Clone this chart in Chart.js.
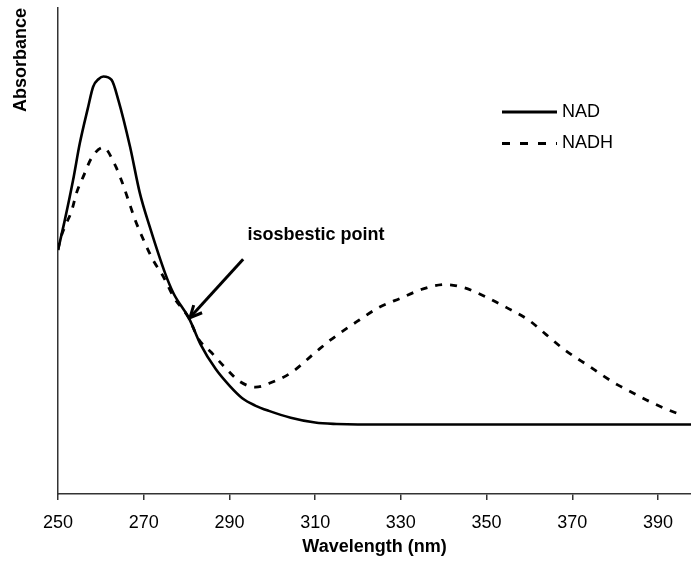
<!DOCTYPE html>
<html>
<head>
<meta charset="utf-8">
<script src="https://cdn.jsdelivr.net/npm/chart.js@4.4.1/dist/chart.umd.min.js"></script>
<style>
    body { margin: 0; background: #fff; }
    #wrap { width: 691px; height: 570px; position: relative; }
</style>
</head>
<body>
<div id="wrap"><canvas id="spectrumGraph"></canvas></div>
<script>
// wavelength (nm) / absorbance (arbitrary units)
var nadWavelength = [250, 251.6, 253.5, 255.1, 257, 258.2, 259.5, 260.6, 262.5, 264.1, 266.8, 269.1, 271.4, 275, 277, 280.6, 283.2, 286.8, 290, 293, 296, 299.2, 304.3, 310, 315, 320, 340, 360, 380, 397.7];
var nadAbsorbance = [50.2, 56.4, 64.5, 72.2, 79.5, 83.8, 85.4, 85.9, 85.2, 81, 71.5, 61.9, 55, 45.4, 41.2, 36.1, 30.9, 25.7, 22.3, 19.7, 18.2, 17.1, 15.7, 14.7, 14.4, 14.3, 14.3, 14.3, 14.3, 14.3];

var nadhWavelength = [250, 250.5, 251.5, 253.2, 254.3, 255.9, 257.8, 260.6, 263.3, 264.9, 266.4, 268, 270.3, 272.2, 274.6, 277, 280.6, 282.7, 285.8, 288.9, 292.5, 296.1, 300.2, 304.3, 310, 313.6, 320.3, 324.9, 330, 335.2, 340.3, 344.9, 349.5, 354.6, 359.8, 363.9, 368, 374.1, 377.6, 380.7, 384.4, 388.1, 390.8, 395.3];
var nadhAbsorbance = [50.2, 52.3, 54.8, 58.3, 61.9, 65.3, 69.1, 71.3, 67.7, 64.3, 60.5, 56.4, 51.6, 48.1, 44.7, 40.5, 36.1, 32, 29.1, 26.1, 23.1, 22, 23.1, 24.9, 29.1, 31.7, 35.8, 38.4, 40.3, 42.2, 43.1, 42.4, 40.7, 38.4, 35.8, 32.8, 29.8, 26.2, 24.1, 22.4, 20.7, 19, 17.9, 16.3];

var xTicks = [250, 270, 290, 310, 330, 350, 370, 390];
var xMin = 250;
var xMax = 397.7;

// arrow tail/tip and label anchor, in data units
var arrowTail = [293.2, 48.3];
var arrowTip = [280.8, 36.3];
var noteLabel = "isosbestic point";
var notePos = [294.2, 53.2];

Chart.defaults.font.family = "'Liberation Sans', Arial, Helvetica, sans-serif";
Chart.defaults.font.size = 18;
Chart.defaults.color = "#000";

function to_points(xs, ys) {
    var pts = [];
    for (var i = 0; i < xs.length; i++) {
        pts.push({ x: xs[i], y: ys[i] });
    }
    return pts;
}

var overlayPlugin = {
    id: "overlay",
    afterDatasetsDraw: function (chart) {
        var ctx = chart.ctx;
        var xs = chart.scales.x;
        var ys = chart.scales.y;
        ctx.save();

        // legend, drawn from the datasets
        var legendX = 502, legendY = 112, sampleW = 55;
        chart.data.datasets.forEach(function (ds, i) {
            var y = legendY + i * 31.5;
            ctx.beginPath();
            ctx.strokeStyle = ds.borderColor;
            ctx.lineWidth = 3;
            ctx.setLineDash(i == 0 ? [] : [8, 10]);
            ctx.moveTo(legendX, y);
            ctx.lineTo(legendX + sampleW, y);
            ctx.stroke();
            ctx.setLineDash([]);
            ctx.fillStyle = "#000";
            ctx.font = "18px 'Liberation Sans', Arial, sans-serif";
            ctx.textAlign = "left";
            ctx.textBaseline = "middle";
            ctx.fillText(ds.label, legendX + sampleW + 5, y);
        });

        // isosbestic point arrow
        var tx = xs.getPixelForValue(arrowTail[0]), ty = ys.getPixelForValue(arrowTail[1]);
        var hx = xs.getPixelForValue(arrowTip[0]), hy = ys.getPixelForValue(arrowTip[1]);
        var ang = Math.atan2(hy - ty, hx - tx);
        ctx.strokeStyle = "#000";
        ctx.lineWidth = 3;
        ctx.lineCap = "butt";
        ctx.beginPath();
        ctx.moveTo(tx, ty);
        ctx.lineTo(hx, hy);
        ctx.stroke();
        ctx.beginPath();
        ctx.moveTo(hx + 13 * Math.cos(ang + Math.PI - 0.45), hy + 13 * Math.sin(ang + Math.PI - 0.45));
        ctx.lineTo(hx, hy);
        ctx.lineTo(hx + 13 * Math.cos(ang + Math.PI + 0.45), hy + 13 * Math.sin(ang + Math.PI + 0.45));
        ctx.stroke();

        ctx.font = "bold 18px 'Liberation Sans', Arial, sans-serif";
        ctx.textAlign = "left";
        ctx.textBaseline = "middle";
        ctx.fillText(noteLabel, xs.getPixelForValue(notePos[0]), ys.getPixelForValue(notePos[1]));
        ctx.restore();
    },
};

var spectrumGraph = new Chart("spectrumGraph", {
    type: "line",
    data: {
        datasets: [
            {
                label: "NAD",
                data: to_points(nadWavelength, nadAbsorbance),
                borderColor: "#000",
                borderWidth: 2.6,
                pointRadius: 0,
                cubicInterpolationMode: "monotone",
                fill: false,
            },
            {
                label: "NADH",
                data: to_points(nadhWavelength, nadhAbsorbance),
                borderColor: "#000",
                borderWidth: 2.8,
                borderDash: [7, 8],
                pointRadius: 0,
                cubicInterpolationMode: "monotone",
                fill: false,
            },
        ],
    },
    options: {
        responsive: true,
        maintainAspectRatio: false,
        animation: false,
        layout: { padding: { top: 8, right: 0, bottom: 0, left: 0 } },
        plugins: {
            legend: { display: false },
            tooltip: { enabled: false },
        },
        scales: {
            x: {
                type: "linear",
                min: xMin,
                max: xMax,
                afterBuildTicks: function (scale) {
                    scale.ticks = xTicks.map(function (v) { return { value: v }; });
                },
                afterFit: function (scale) { scale.height = 76; },
                grid: { drawOnChartArea: false, drawTicks: true, tickLength: 6, color: "#333", lineWidth: 1.5 },
                border: { display: true, color: "#333", width: 1.5 },
                ticks: { padding: 12, maxRotation: 0, autoSkip: false, font: { size: 18 } },
                title: { display: true, text: "Wavelength (nm)", font: { size: 18, weight: "bold" }, padding: { top: 0, bottom: 12 } },
            },
            y: {
                min: 0,
                max: 100,
                afterFit: function (scale) { scale.width = 58; },
                grid: { drawOnChartArea: false, drawTicks: false },
                border: { display: true, color: "#333", width: 1.5 },
                ticks: { display: false },
                title: { display: true, text: "Absorbance", align: "end", font: { size: 18, weight: "bold" }, padding: { top: 10, bottom: 0 } },
            },
        },
    },
    plugins: [overlayPlugin],
});
</script>
</body>
</html>
